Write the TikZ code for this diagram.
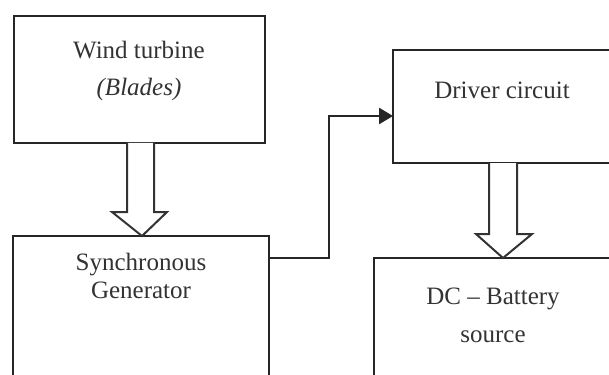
\documentclass[tikz,border=0pt]{standalone}
\usepackage{fontspec}
\setmainfont{Liberation Serif}
\usetikzlibrary{arrows.meta}
\tikzset{
  blockbox/.style={draw=black!85, line width=2.6pt, inner sep=0pt, outer sep=0pt, fill=white},
  lbl/.style={inner sep=0pt, align=center, text=black!80, font=\fontsize{25}{37}\selectfont},
  hollow/.style={draw=black!80, line width=2pt, fill=white, line join=miter},
  conn/.style={draw=black!85, line width=2.6pt, -{Triangle[length=14pt,width=16pt]}}
}
\begin{document}
\begin{tikzpicture}[x=1pt,y=-1pt]
\useasboundingbox (0,0) rectangle (609,374);
\clip (0,0) rectangle (609,374);
\fill[white] (0,0) rectangle (609,374);
% boxes
\node[blockbox, minimum width=251pt, minimum height=127pt] (wt) at (139.5,79.5) {};
\node[blockbox, minimum width=256pt, minimum height=184pt] (gen) at (141,328) {};
\node[blockbox, minimum width=267pt, minimum height=113pt] (drv) at (526.5,106.5) {};
\node[blockbox, minimum width=286pt, minimum height=162pt] (bat) at (517,339) {};
% texts
\node[lbl] (wtt) at (139,71) {Wind turbine\\\textit{(Blades)}};
\node[lbl, font=\fontsize{25}{28}\selectfont] (gent) at (141,276) {Synchronous\\Generator};
\node[lbl] (drvt) at (502,90) {Driver circuit};
\node[lbl, font=\fontsize{25}{38}\selectfont] (batt) at (493,315) {DC -- Battery\\source};
% hollow arrows
\draw[hollow] (wt.south -| 127,0) -- (127,212) -- (112,212) -- (gen.north -| 142,0)
  -- (167,212) -- (154,212) -- (wt.south -| 154,0);
\draw[hollow] (drv.south -| 489,0) -- (489,234) -- (476,234) -- (bat.north -| 503,0)
  -- (532,234) -- (517,234) -- (drv.south -| 517,0);
% connector
\draw[conn] (gen.north east |- 0,258) -- (329,258) -- (329,116) -- (drv.west |- 0,116);
\end{tikzpicture}
\end{document}
